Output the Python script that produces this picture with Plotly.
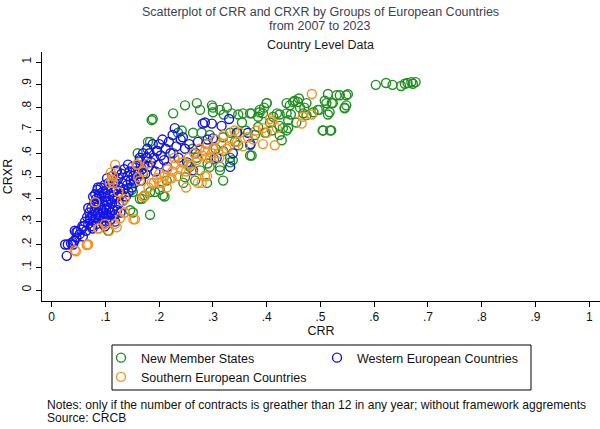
import plotly.graph_objects as go

# ---------------- data ----------------
nms_x = [0.105, 0.146, 0.151, 0.151, 0.149, 0.160, 0.164, 0.168, 0.170, 0.173, 0.179, 0.179, 0.183, 0.183,
         0.183, 0.186, 0.188, 0.192, 0.201, 0.207, 0.210, 0.214, 0.226, 0.235, 0.242, 0.245, 0.248, 0.248,
         0.254, 0.257, 0.263, 0.267, 0.270, 0.270, 0.276, 0.276, 0.279, 0.289, 0.290, 0.294, 0.294, 0.298,
         0.300, 0.300, 0.302, 0.313, 0.313, 0.313, 0.319, 0.319, 0.319, 0.320, 0.326, 0.332, 0.332, 0.332,
         0.335, 0.337, 0.344, 0.347, 0.347, 0.354, 0.356, 0.369, 0.369, 0.369, 0.372, 0.372, 0.384, 0.384,
         0.387, 0.387, 0.393, 0.397, 0.400, 0.400, 0.406, 0.419, 0.424, 0.424, 0.424, 0.428, 0.430, 0.437,
         0.437, 0.437, 0.440, 0.440, 0.443, 0.449, 0.452, 0.455, 0.458, 0.460, 0.462, 0.468, 0.474, 0.474,
         0.495, 0.498, 0.504, 0.505, 0.508, 0.511, 0.514, 0.514, 0.517, 0.518, 0.520, 0.521, 0.523, 0.530,
         0.536, 0.545, 0.545, 0.548, 0.548, 0.551, 0.603, 0.622, 0.634, 0.650, 0.657, 0.662, 0.669, 0.677,
         0.672, 0.226, 0.262, 0.287, 0.305, 0.341, 0.361, 0.378, 0.410, 0.412, 0.445, 0.470, 0.487, 0.395]
nms_y = [0.260, 0.350, 0.340, 0.430, 0.440, 0.600, 0.400, 0.400, 0.510, 0.415, 0.540, 0.650, 0.330, 0.430,
         0.650, 0.745, 0.750, 0.430, 0.440, 0.415, 0.410, 0.480, 0.775, 0.690, 0.700, 0.470, 0.810, 0.495,
         0.550, 0.540, 0.690, 0.480, 0.820, 0.580, 0.525, 0.790, 0.690, 0.470, 0.555, 0.680, 0.540, 0.810,
         0.780, 0.800, 0.575, 0.790, 0.540, 0.525, 0.670, 0.480, 0.610, 0.770, 0.800, 0.580, 0.560, 0.690,
         0.775, 0.570, 0.690, 0.770, 0.635, 0.735, 0.775, 0.590, 0.635, 0.775, 0.775, 0.590, 0.760, 0.715,
         0.780, 0.790, 0.775, 0.690, 0.820, 0.820, 0.735, 0.775, 0.770, 0.720, 0.680, 0.657, 0.710, 0.820,
         0.700, 0.775, 0.745, 0.710, 0.810, 0.825, 0.830, 0.735, 0.825, 0.840, 0.800, 0.775, 0.820, 0.767,
         0.790, 0.790, 0.700, 0.700, 0.830, 0.820, 0.860, 0.770, 0.780, 0.700, 0.700, 0.820, 0.820, 0.854,
         0.854, 0.797, 0.800, 0.854, 0.810, 0.859, 0.900, 0.908, 0.900, 0.895, 0.905, 0.908, 0.912, 0.912,
         0.905, 0.600, 0.620, 0.640, 0.620, 0.650, 0.700, 0.680, 0.700, 0.760, 0.770, 0.800, 0.780, 0.800]

wec_x = [0.025, 0.028, 0.030, 0.036, 0.039, 0.040, 0.042, 0.043, 0.046, 0.046, 0.048, 0.052, 0.055, 0.057,
         0.058, 0.060, 0.062, 0.064, 0.066, 0.068, 0.068, 0.070, 0.071, 0.072, 0.074, 0.075, 0.076, 0.077,
         0.078, 0.079, 0.080, 0.081, 0.082, 0.083, 0.084, 0.085, 0.086, 0.086, 0.087, 0.088, 0.089, 0.090,
         0.091, 0.092, 0.093, 0.094, 0.095, 0.096, 0.097, 0.098, 0.099, 0.100, 0.101, 0.102, 0.103, 0.103,
         0.104, 0.105, 0.106, 0.107, 0.108, 0.109, 0.110, 0.111, 0.112, 0.113, 0.114, 0.115, 0.116, 0.117,
         0.118, 0.119, 0.120, 0.121, 0.121, 0.122, 0.123, 0.124, 0.125, 0.127, 0.128, 0.129, 0.130, 0.131,
         0.132, 0.134, 0.135, 0.137, 0.138, 0.140, 0.141, 0.142, 0.143, 0.145, 0.147, 0.149, 0.150, 0.152,
         0.154, 0.156, 0.158, 0.160, 0.162, 0.164, 0.164, 0.166, 0.168, 0.170, 0.172, 0.174, 0.176, 0.177,
         0.178, 0.180, 0.182, 0.185, 0.188, 0.190, 0.193, 0.196, 0.196, 0.199, 0.200, 0.203, 0.206, 0.209,
         0.212, 0.215, 0.218, 0.221, 0.225, 0.229, 0.232, 0.236, 0.240, 0.244, 0.248, 0.252, 0.256, 0.263,
         0.268, 0.272, 0.281, 0.285, 0.290, 0.298, 0.300, 0.307, 0.316, 0.330, 0.332, 0.337, 0.345, 0.365,
         0.370, 0.083, 0.091, 0.097, 0.106, 0.113, 0.094, 0.101, 0.108, 0.076, 0.088, 0.099, 0.118]
wec_y = [0.200, 0.150, 0.200, 0.205, 0.210, 0.200, 0.215, 0.260, 0.230, 0.255, 0.255, 0.245, 0.265, 0.280,
         0.235, 0.280, 0.300, 0.260, 0.320, 0.290, 0.360, 0.340, 0.315, 0.310, 0.360, 0.280, 0.330, 0.410,
         0.300, 0.380, 0.350, 0.420, 0.320, 0.400, 0.290, 0.440, 0.340, 0.450, 0.370, 0.310, 0.410, 0.330,
         0.450, 0.360, 0.300, 0.390, 0.430, 0.340, 0.320, 0.460, 0.370, 0.410, 0.350, 0.300, 0.440, 0.490,
         0.330, 0.390, 0.470, 0.360, 0.420, 0.340, 0.310, 0.450, 0.380, 0.500, 0.350, 0.430, 0.400, 0.330,
         0.470, 0.370, 0.440, 0.520, 0.525, 0.350, 0.410, 0.490, 0.380, 0.450, 0.340, 0.420, 0.510, 0.470,
         0.390, 0.440, 0.530, 0.480, 0.410, 0.460, 0.500, 0.550, 0.430, 0.520, 0.480, 0.450, 0.540, 0.500,
         0.470, 0.520, 0.490, 0.550, 0.510, 0.570, 0.580, 0.480, 0.530, 0.600, 0.550, 0.510, 0.580, 0.580,
         0.620, 0.540, 0.600, 0.560, 0.640, 0.580, 0.520, 0.610, 0.610, 0.550, 0.640, 0.590, 0.660, 0.570,
         0.620, 0.540, 0.650, 0.600, 0.680, 0.710, 0.630, 0.580, 0.660, 0.670, 0.620, 0.560, 0.640, 0.525,
         0.600, 0.650, 0.730, 0.735, 0.660, 0.730, 0.665, 0.580, 0.720, 0.750, 0.540, 0.600, 0.690, 0.690,
         0.640, 0.380, 0.400, 0.290, 0.320, 0.410, 0.350, 0.390, 0.300, 0.270, 0.420, 0.280, 0.300]

sec_x = [0.043, 0.045, 0.065, 0.066, 0.068, 0.081, 0.086, 0.088, 0.099, 0.107, 0.108, 0.110, 0.112, 0.114,
         0.114, 0.118, 0.118, 0.121, 0.124, 0.127, 0.131, 0.135, 0.136, 0.136, 0.152, 0.155, 0.158, 0.160,
         0.161, 0.164, 0.170, 0.170, 0.173, 0.179, 0.180, 0.190, 0.196, 0.200, 0.200, 0.205, 0.210, 0.215,
         0.220, 0.223, 0.225, 0.230, 0.235, 0.240, 0.245, 0.250, 0.250, 0.255, 0.260, 0.265, 0.270, 0.272,
         0.275, 0.279, 0.280, 0.285, 0.285, 0.289, 0.289, 0.290, 0.295, 0.300, 0.305, 0.310, 0.315, 0.320,
         0.330, 0.335, 0.340, 0.350, 0.356, 0.365, 0.375, 0.380, 0.393, 0.393, 0.400, 0.406, 0.410, 0.415,
         0.419, 0.465, 0.467, 0.484, 0.484, 0.262, 0.242, 0.228, 0.312, 0.298, 0.325, 0.345, 0.214, 0.186]
sec_y = [0.175, 0.170, 0.197, 0.200, 0.200, 0.385, 0.270, 0.270, 0.290, 0.260, 0.470, 0.515, 0.485, 0.470,
         0.500, 0.290, 0.550, 0.275, 0.430, 0.315, 0.390, 0.340, 0.340, 0.400, 0.310, 0.310, 0.550, 0.550,
         0.495, 0.480, 0.520, 0.410, 0.410, 0.555, 0.450, 0.470, 0.490, 0.510, 0.470, 0.470, 0.500, 0.530,
         0.490, 0.490, 0.520, 0.550, 0.500, 0.530, 0.560, 0.520, 0.450, 0.580, 0.550, 0.600, 0.570, 0.470,
         0.620, 0.470, 0.590, 0.610, 0.500, 0.580, 0.500, 0.640, 0.580, 0.620, 0.660, 0.600, 0.640, 0.680,
         0.630, 0.660, 0.700, 0.690, 0.630, 0.670, 0.660, 0.700, 0.640, 0.710, 0.690, 0.750, 0.740, 0.635,
         0.710, 0.730, 0.760, 0.770, 0.860, 0.520, 0.560, 0.580, 0.580, 0.600, 0.620, 0.650, 0.450, 0.470]

tick_vals = [0, 0.1, 0.2, 0.3, 0.4, 0.5, 0.6, 0.7, 0.8, 0.9, 1]
tick_text = ["0", ".1", ".2", ".3", ".4", ".5", ".6", ".7", ".8", ".9", "1"]

GREEN = "#1f8f1f"
BLUE = "#1414e6"
ORANGE = "#f39224"
FONT = "Arial, Liberation Sans, sans-serif"

fig = go.Figure()
for name, xs, ys, col in [("New Member States", nms_x, nms_y, GREEN),
                          ("Western European Countries", wec_x, wec_y, BLUE),
                          ("Southern European Countries", sec_x, sec_y, ORANGE)]:
    fig.add_trace(go.Scatter(
        x=xs, y=ys, mode="markers", name=name,
        marker=dict(symbol="circle-open", size=9, color=col, line=dict(width=1.4, color=col)),
    ))

W, H = 600, 429
L, R, T, B = 42, 0, 52, 128
pw, ph = W - L - R, H - T - B


def px_x(p):
    return (p - L) / pw


def px_y(p):
    return (H - B - p) / ph


fig.update_layout(
    width=W, height=H,
    margin=dict(l=L, r=R, t=T, b=B),
    paper_bgcolor="white", plot_bgcolor="white",
    font=dict(family=FONT, size=12, color="#111111"),
    showlegend=True,
    legend=dict(
        orientation="h", x=px_x(101), y=px_y(343), xanchor="left", yanchor="top",
        entrywidth=171, entrywidthmode="pixels",
        font=dict(size=12.5, family=FONT, color="#111111"),
        bgcolor="rgba(0,0,0,0)", borderwidth=0, itemsizing="trace",
        tracegroupgap=0,
    ),
    xaxis=dict(
        range=[-0.018, 1.02], showgrid=False, zeroline=False,
        showline=True, linecolor="black", linewidth=1,
        ticks="outside", ticklen=5, tickcolor="black", tickwidth=1,
        tickvals=tick_vals, ticktext=tick_text,
        tickfont=dict(size=12, family=FONT, color="#111111"),
        title=dict(text="CRR", font=dict(size=12.5, family=FONT, color="#111111"), standoff=0),
    ),
    yaxis=dict(
        range=[-0.048, 1.044], showgrid=False, zeroline=False,
        showline=True, linecolor="black", linewidth=1,
        ticks="outside", ticklen=5, tickcolor="black", tickwidth=1,
        tickvals=tick_vals, ticktext=tick_text, tickangle=-90,
        tickfont=dict(size=12, family=FONT, color="#111111"),
        title=dict(text="CRXR", font=dict(size=12.5, family=FONT, color="#111111"), standoff=4),
    ),
)

# legend box
fig.add_shape(type="rect", xref="paper", yref="paper",
              x0=px_x(112), x1=px_x(531), y0=px_y(345), y1=px_y(390),
              line=dict(color="black", width=1), fillcolor="rgba(0,0,0,0)")

anns = [
    ("Scatterplot of CRR and CRXR by Groups of European Countries", 12, 12.5, "#3b4252"),
    ("from 2007 to 2023", 26, 12.5, "#3b4252"),
    ("Country Level Data", 45, 12.5, "#1a1a1a"),
]
for txt, yy, sz, col in anns:
    fig.add_annotation(text=txt, xref="paper", yref="paper", x=px_x(320), y=px_y(yy),
                       xanchor="center", yanchor="middle", showarrow=False,
                       font=dict(size=sz, family=FONT, color=col))

fig.add_annotation(text="Notes: only if the number of contracts is greather than 12 in any year; without framework aggrements",
                   xref="paper", yref="paper", x=px_x(45), y=px_y(405), xanchor="left", yanchor="middle",
                   showarrow=False, font=dict(size=12.1, family=FONT, color="#111111"))
fig.add_annotation(text="Source: CRCB",
                   xref="paper", yref="paper", x=px_x(45), y=px_y(418), xanchor="left", yanchor="middle",
                   showarrow=False, font=dict(size=12.1, family=FONT, color="#111111"))

fig.write_html("out.html")
